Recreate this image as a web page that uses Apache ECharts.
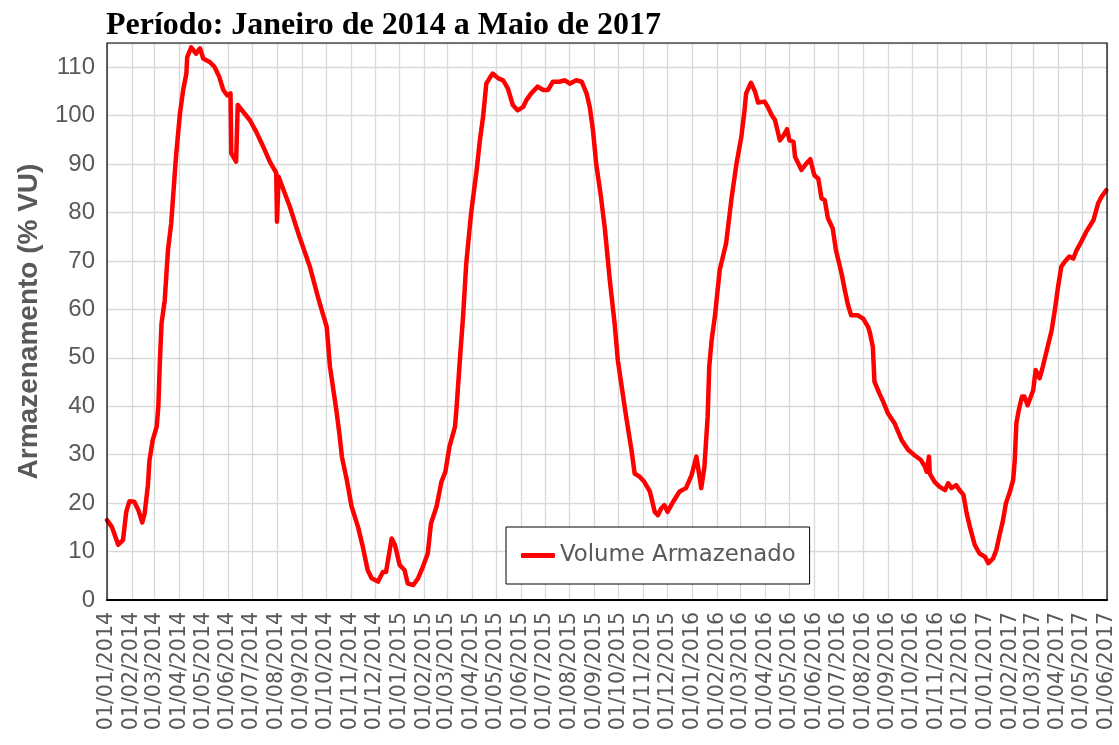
<!DOCTYPE html>
<html>
<head>
<meta charset="utf-8">
<script src="https://cdn.jsdelivr.net/npm/echarts@6/dist/echarts.min.js"></script>
<style>
html,body{margin:0;padding:0;background:#fff;}
#chart{width:1119px;height:745px;}
</style>
</head>
<body>
<div id="chart"></div>
<script>
const titleText = 'Período: Janeiro de 2014 a Maio de 2017';
const yAxisName = 'Armazenamento (% VU)';
const seriesName = 'Volume Armazenado';
const xMin = '2014-01-01';
const xMax = '2017-06-01';
const yTicks = [0, 10, 20, 30, 40, 50, 60, 70, 80, 90, 100, 110];

const dates = [
'2014-01-01','2014-01-07','2014-01-15','2014-01-21','2014-01-25','2014-01-29','2014-02-04','2014-02-09','2014-02-14','2014-02-17',
'2014-02-21','2014-02-23','2014-02-27','2014-03-04','2014-03-06','2014-03-08','2014-03-10','2014-03-14','2014-03-18','2014-03-22',
'2014-03-28','2014-04-02','2014-04-06','2014-04-10','2014-04-11','2014-04-16','2014-04-22','2014-04-27','2014-05-01','2014-05-09',
'2014-05-15','2014-05-21','2014-05-26','2014-05-31','2014-06-04','2014-06-05','2014-06-11','2014-06-13','2014-06-28','2014-07-06',
'2014-07-14','2014-07-23','2014-07-31','2014-08-01','2014-08-03','2014-08-17','2014-08-29','2014-09-11','2014-09-21','2014-09-27',
'2014-10-02','2014-10-06','2014-10-14','2014-10-18','2014-10-21','2014-10-27','2014-11-02','2014-11-10','2014-11-16','2014-11-22',
'2014-11-27','2014-12-05','2014-12-11','2014-12-15','2014-12-22','2014-12-26','2015-01-01','2015-01-07','2015-01-11','2015-01-18',
'2015-01-24','2015-01-30','2015-02-05','2015-02-09','2015-02-16','2015-02-22','2015-02-27','2015-03-04','2015-03-11','2015-03-13',
'2015-03-17','2015-03-21','2015-03-25','2015-03-31','2015-04-07','2015-04-11','2015-04-15','2015-04-19','2015-04-23','2015-04-27',
'2015-05-04','2015-05-10','2015-05-16','2015-05-22','2015-05-28','2015-06-04','2015-06-08','2015-06-14','2015-06-22','2015-06-29',
'2015-07-05','2015-07-11','2015-07-19','2015-07-26','2015-08-01','2015-08-09','2015-08-16','2015-08-22','2015-08-26','2015-08-30',
'2015-09-03','2015-09-09','2015-09-14','2015-09-20','2015-09-26','2015-09-30','2015-10-06','2015-10-11','2015-10-17','2015-10-21',
'2015-10-27','2015-11-02','2015-11-09','2015-11-15','2015-11-19','2015-11-23','2015-11-27','2015-12-01','2015-12-08','2015-12-16',
'2015-12-24','2015-12-31','2016-01-06','2016-01-12','2016-01-16','2016-01-20','2016-01-22','2016-01-25','2016-01-29','2016-02-04',
'2016-02-12','2016-02-19','2016-02-25','2016-03-02','2016-03-06','2016-03-08','2016-03-14','2016-03-19','2016-03-23','2016-03-31',
'2016-04-04','2016-04-09','2016-04-13','2016-04-19','2016-04-24','2016-04-28','2016-05-01','2016-05-06','2016-05-08','2016-05-16',
'2016-05-22','2016-05-27','2016-06-01','2016-06-06','2016-06-10','2016-06-14','2016-06-18','2016-06-24','2016-06-28','2016-07-05',
'2016-07-09','2016-07-13','2016-07-17','2016-07-25','2016-08-01','2016-08-07','2016-08-09','2016-08-13','2016-08-15','2016-08-21',
'2016-08-26','2016-09-01','2016-09-09','2016-09-18','2016-09-26','2016-10-04','2016-10-12','2016-10-17','2016-10-19','2016-10-22',
'2016-10-23','2016-10-29','2016-11-04','2016-11-11','2016-11-15','2016-11-19','2016-11-25','2016-11-29','2016-12-04','2016-12-08',
'2016-12-12','2016-12-18','2016-12-24','2016-12-31','2017-01-04','2017-01-10','2017-01-14','2017-01-18','2017-01-22','2017-01-26',
'2017-01-31','2017-02-04','2017-02-06','2017-02-08','2017-02-11','2017-02-15','2017-02-18','2017-02-22','2017-02-24','2017-03-01',
'2017-03-04','2017-03-09','2017-03-13','2017-03-19','2017-03-24','2017-03-28','2017-04-01','2017-04-05','2017-04-09','2017-04-15',
'2017-04-20','2017-04-24','2017-04-30','2017-05-06','2017-05-15','2017-05-21','2017-05-25','2017-05-31'
];

const volumes = [
16.5,15.1,11.4,12.4,18.2,20.4,20.3,18.6,16.0,17.9,
23.7,28.9,33.0,35.8,39.9,49.5,57.1,61.9,72.2,77.7,
91.5,100.5,105.3,108.7,112.1,114.1,112.8,113.9,111.8,111.1,
110.1,108.0,105.3,104.2,104.6,92.2,90.5,102.2,99.1,96.7,
93.9,90.5,88.2,78.1,87.4,81.2,75.0,68.8,62.6,59.2,
56.4,48.2,39.2,34.0,29.5,24.8,19.3,15.1,11.0,6.2,
4.5,3.8,5.8,5.8,12.7,11.4,7.2,6.2,3.4,3.1,
4.5,6.9,9.6,15.8,19.3,24.4,26.5,31.6,35.8,39.9,
49.5,58.5,69.5,79.8,88.8,94.9,99.8,106.6,107.7,108.7,
107.7,107.3,105.6,102.2,101.1,101.8,103.2,104.6,106.0,105.3,
105.3,107.0,107.0,107.3,106.6,107.3,107.0,104.6,101.8,97.0,
90.1,83.2,76.4,66.0,57.1,49.5,42.7,37.2,31.0,26.1,
25.5,24.4,22.4,18.2,17.5,18.9,19.6,18.2,20.3,22.4,
23.1,25.8,29.6,23.1,27.5,37.8,48.2,53.7,58.5,68.1,
73.6,83.2,90.1,95.6,101.1,104.6,106.8,105.0,102.7,102.9,
101.8,100.1,99.1,94.9,96.0,97.2,94.9,94.6,91.5,88.8,
90.1,91.0,87.7,87.0,82.9,82.6,78.8,76.7,72.2,67.4,
64.0,60.9,58.8,58.8,58.1,56.4,55.4,52.3,45.1,42.7,
40.9,38.5,36.5,33.0,31.0,29.9,28.9,27.5,26.5,29.6,
26.1,24.4,23.4,22.7,24.1,23.1,23.7,22.7,21.7,17.9,
15.1,11.4,9.6,8.9,7.6,8.6,10.3,13.4,16.2,20.0,
22.4,24.8,28.9,36.5,39.2,42.0,42.0,40.2,40.2,43.3,
47.5,45.8,48.2,52.3,55.7,59.9,64.7,68.8,69.8,70.9,
70.5,72.2,74.0,76.0,78.4,81.9,83.2,84.6
];

const seriesData = dates.map((d, i) => [d, volumes[i]]);

const chart = echarts.init(document.getElementById('chart'), null, {renderer: 'canvas'});
chart.setOption({
  animation: false,
  backgroundColor: '#ffffff',
  title: {
    text: titleText,
    left: 106,
    top: 10,
    padding: 0,
    textStyle: {
      fontFamily: '"Liberation Serif", "Times New Roman", serif',
      fontWeight: 'bold',
      fontSize: 32,
      color: '#000000'
    }
  },
  legend: {
    data: [{name: seriesName, icon: 'roundRect'}],
    left: 506,
    top: 527,
    orient: 'horizontal',
    backgroundColor: '#ffffff',
    borderColor: '#000000',
    borderWidth: 1,
    padding: [17, 14, 17, 15],
    itemWidth: 34,
    itemHeight: 5,
    itemGap: 6,
    itemStyle: {color: '#ff0000', borderWidth: 0},
    textStyle: {
      fontFamily: '"DejaVu Sans", sans-serif',
      fontSize: 22.8,
      color: '#595959'
    }
  },
  grid: {
    left: 107,
    right: 12,
    top: 43,
    bottom: 145,
    show: true,
    z: 5,
    borderColor: '#000000',
    borderWidth: 1.2,
    backgroundColor: 'transparent'
  },
  xAxis: {
    type: 'time',
    min: xMin,
    max: xMax,
    splitNumber: 42,
    maxInterval: 31 * 24 * 3600 * 1000,
    axisLine: {show: true, lineStyle: {color: '#000000', width: 2}},
    axisTick: {show: false},
    axisLabel: {
      rotate: 90,
      margin: 12,
      formatter: '{dd}/{MM}/{yyyy}',
      hideOverlap: false,
      showMinLabel: true,
      showMaxLabel: true,
      fontFamily: '"DejaVu Sans", sans-serif',
      fontSize: 20.5,
      color: '#595959'
    },
    splitLine: {show: true, lineStyle: {color: '#d9d9d9', width: 1.3}}
  },
  yAxis: {
    type: 'value',
    min: yTicks[0],
    max: 115,
    interval: 10,
    name: yAxisName,
    nameLocation: 'middle',
    nameGap: 64,
    nameTextStyle: {
      fontFamily: '"Liberation Sans", Arial, sans-serif',
      fontWeight: 'bold',
      fontSize: 28,
      color: '#595959'
    },
    axisLine: {show: false},
    axisTick: {show: false},
    axisLabel: {
      margin: 12,
      showMaxLabel: false,
      fontFamily: '"Liberation Sans", Arial, sans-serif',
      fontSize: 24,
      color: '#595959',
      formatter: function (v) { return yTicks.indexOf(v) >= 0 ? String(v) : ''; }
    },
    splitLine: {show: true, lineStyle: {color: '#d9d9d9', width: 1.3}}
  },
  series: [{
    name: seriesName,
    type: 'line',
    data: seriesData,
    showSymbol: false,
    symbol: 'none',
    lineStyle: {color: '#ff0000', width: 4.5, join: 'round', cap: 'round'},
    itemStyle: {color: '#ff0000'},
    z: 3
  }]
});
</script>
</body>
</html>
